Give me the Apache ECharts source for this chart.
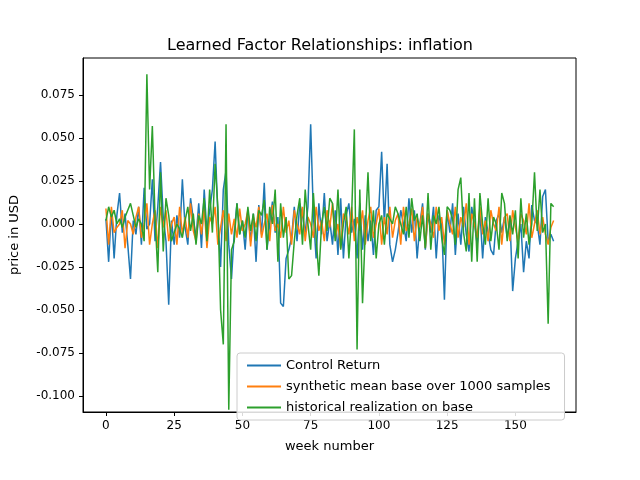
<!DOCTYPE html>
<html>
<head>
<meta charset="utf-8">
<script src="https://cdn.jsdelivr.net/npm/echarts@6/dist/echarts.min.js"></script>
<style>html,body{margin:0;padding:0;background:#fff}#chart{width:640px;height:480px}</style>
</head>
<body>
<div id="chart"></div>
<script>
const controlReturn = [
  0.003,-0.022,0.008,-0.02,0.005,0.018,-0.005,0.006,-0.012,-0.032,
  0.002,-0.006,0.01,-0.012,0.021,-0.003,0.0,0.026,-0.01,0.01,
  0.036,0.004,-0.01,-0.047,0.002,-0.012,0.005,-0.008,0.026,-0.002,
  -0.012,0.015,0.003,-0.008,0.012,-0.014,0.02,-0.005,0.008,0.02,
  0.048,0.005,-0.025,0.02,0.031,-0.012,-0.032,-0.005,0.012,-0.006,
  0.002,-0.015,0.008,-0.01,0.006,-0.022,0.011,-0.006,0.024,-0.015,
  0.0,0.013,-0.005,0.004,-0.046,-0.048,-0.02,-0.015,-0.008,0.01,
  -0.01,0.012,0.005,-0.005,0.01,0.058,0.005,-0.02,0.012,-0.006,
  0.018,-0.01,0.002,-0.012,0.008,-0.018,0.015,-0.02,0.005,0.012,
  -0.005,0.003,-0.02,0.012,-0.015,0.005,-0.01,0.002,-0.018,0.008,
  0.01,0.042,0.0,0.035,-0.012,-0.022,-0.015,-0.005,0.008,0.0,
  -0.01,0.015,-0.005,0.008,-0.02,0.0,0.012,-0.015,0.006,-0.005,
  0.01,-0.02,0.005,0.0,-0.044,0.008,-0.005,0.012,-0.018,0.006,
  -0.012,0.01,-0.006,-0.016,0.01,0.0,-0.012,0.008,-0.02,0.004,
  -0.005,-0.015,-0.018,0.002,0.006,-0.005,0.004,-0.008,0.003,-0.039,
  -0.02,-0.01,0.0,-0.028,-0.01,-0.02,0.011,0.002,0.0,-0.012,
  0.016,0.02,-0.01,-0.006,-0.01
];
const syntheticMean = [
  0.009,-0.012,0.01,-0.005,-0.002,0.0,0.008,-0.014,0.002,0.0,
  -0.006,0.004,0.01,-0.008,0.0,0.012,-0.012,0.0,0.008,-0.014,
  0.01,-0.002,0.008,-0.01,0.0,0.004,-0.012,0.01,-0.006,0.004,
  -0.008,0.012,-0.004,-0.01,0.006,-0.006,0.009,-0.014,0.004,0.0,
  0.01,-0.012,-0.002,0.008,-0.01,0.006,-0.006,0.003,-0.008,0.009,
  -0.004,0.0,0.008,-0.013,0.004,-0.002,0.01,-0.008,0.0,0.006,
  -0.01,0.011,-0.004,0.0,-0.008,0.01,-0.005,0.002,-0.012,0.008,
  0.0,-0.006,0.01,-0.01,0.004,0.0,-0.008,0.01,-0.004,0.002,
  -0.01,0.008,-0.002,0.012,-0.008,0.0,-0.014,0.006,0.003,-0.006,
  0.01,-0.01,0.004,-0.004,0.008,-0.012,0.002,0.01,-0.008,0.0,
  0.009,-0.012,0.004,-0.006,0.01,-0.008,0.002,0.006,-0.012,0.01,
  -0.004,0.0,0.009,-0.01,0.004,-0.002,0.01,-0.014,0.006,0.0,
  -0.008,0.01,-0.004,0.004,-0.012,0.008,0.0,-0.006,0.01,-0.008,
  0.004,-0.002,0.012,-0.012,0.006,0.0,-0.008,0.01,-0.006,0.002,
  -0.01,0.008,0.0,-0.004,0.01,-0.012,0.004,0.006,-0.01,0.008,
  -0.002,-0.01,0.006,0.002,-0.006,0.012,-0.008,0.0,0.008,-0.006,
  0.004,-0.006,-0.012,-0.002,0.002
];
const historical = [
  0.002,0.01,0.004,0.008,0.0,0.003,-0.002,0.004,0.008,0.012,
  0.005,-0.002,0.003,0.0,-0.01,0.087,0.02,0.057,0.003,-0.028,
  0.03,-0.016,0.015,0.005,-0.01,-0.005,0.0,-0.003,-0.008,0.002,
  0.01,-0.004,0.006,-0.012,0.005,0.0,0.015,-0.01,0.02,-0.005,
  0.035,0.01,-0.05,-0.07,0.058,-0.108,-0.015,-0.01,0.012,-0.006,
  0.002,-0.008,0.01,-0.004,0.006,-0.01,0.008,0.005,0.014,-0.015,
  0.01,0.0,0.02,-0.022,0.012,-0.008,0.004,-0.032,-0.03,-0.01,
  0.005,0.015,-0.012,0.02,0.0,-0.015,0.018,-0.008,-0.03,0.0,
  0.01,-0.004,0.015,0.012,-0.01,0.02,-0.015,0.0,0.01,-0.02,
  0.005,0.055,-0.073,0.02,-0.046,-0.005,0.03,-0.01,0.008,-0.02,
  0.0,0.005,-0.012,0.006,0.003,0.0,0.01,0.006,0.0,-0.006,
  0.01,-0.008,0.015,0.002,0.006,-0.01,0.005,-0.014,0.018,-0.015,
  0.005,0.0,0.01,-0.008,-0.018,0.01,0.008,0.003,-0.012,0.02,
  0.027,-0.005,-0.016,0.018,-0.022,0.015,-0.022,0.018,0.0,-0.012,
  0.015,-0.01,0.004,0.0,-0.015,0.018,0.012,-0.01,0.005,-0.006,
  0.008,-0.02,0.015,-0.008,0.006,-0.012,0.0,0.03,-0.004,0.02,
  -0.005,0.0,-0.058,0.012,0.01
];
const seriesNames = ['Control Return', 'synthetic mean base over 1000 samples', 'historical realization on base'];
const colors = ['#1f77b4', '#ff7f0e', '#2ca02c'];

const toPairs = arr => arr.map((v, i) => [i, v]);
const font = 'DejaVu Sans';

const chart = echarts.init(document.getElementById('chart'));
chart.setOption({
  animation: false,
  textStyle: { fontFamily: font },
  title: {
    text: 'Learned Factor Relationships: inflation',
    left: 'center', top: 33,
    textStyle: { fontFamily: font, fontSize: 16, fontWeight: 'normal', color: '#000' }
  },
  grid: { left: 80, right: 64, top: 58, bottom: 68, show: true, borderColor: '#000', borderWidth: 1 },
  legend: {
    orient: 'vertical', left: 237, top: 353, z: 10,
    itemWidth: 34, itemHeight: 2, itemGap: 8,
    padding: [6, 14, 6, 10],
    borderColor: '#ccc', borderWidth: 1, borderRadius: 3,
    backgroundColor: 'rgba(255,255,255,0.85)',
    icon: 'rect',
    textStyle: { fontFamily: font, fontSize: 13, color: '#000' },
    data: seriesNames
  },
  xAxis: {
    type: 'value', min: -8.4, max: 172.2, minInterval: 25, maxInterval: 25,
    name: 'week number', nameLocation: 'middle', nameGap: 28,
    nameTextStyle: { fontFamily: font, fontSize: 13, color: '#000' },
    axisLine: { show: true, onZero: false, lineStyle: { color: '#000' } },
    axisTick: { show: true, length: 4, lineStyle: { color: '#000' } },
    axisLabel: { showMinLabel: false, showMaxLabel: false, color: '#000', fontSize: 12, fontFamily: font },
    splitLine: { show: false }
  },
  yAxis: {
    type: 'value', min: -0.1093, max: 0.0965, minInterval: 0.025, maxInterval: 0.025,
    name: 'price in USD', nameLocation: 'middle', nameGap: 62,
    nameTextStyle: { fontFamily: font, fontSize: 13, color: '#000' },
    axisLine: { show: true, onZero: false, lineStyle: { color: '#000' } },
    axisTick: { show: true, length: 4, lineStyle: { color: '#000' } },
    axisLabel: {
      showMinLabel: false, showMaxLabel: false, color: '#000', fontSize: 12, fontFamily: font,
      formatter: v => (Math.abs(v) < 1e-9 ? 0 : v).toFixed(3)
    },
    splitLine: { show: false }
  },
  series: [controlReturn, syntheticMean, historical].map((arr, k) => ({
    name: seriesNames[k], type: 'line', data: toPairs(arr),
    showSymbol: false, symbol: 'none',
    lineStyle: { width: 1.5, color: colors[k] }, itemStyle: { color: colors[k] }
  }))
});
</script>
</body>
</html>
